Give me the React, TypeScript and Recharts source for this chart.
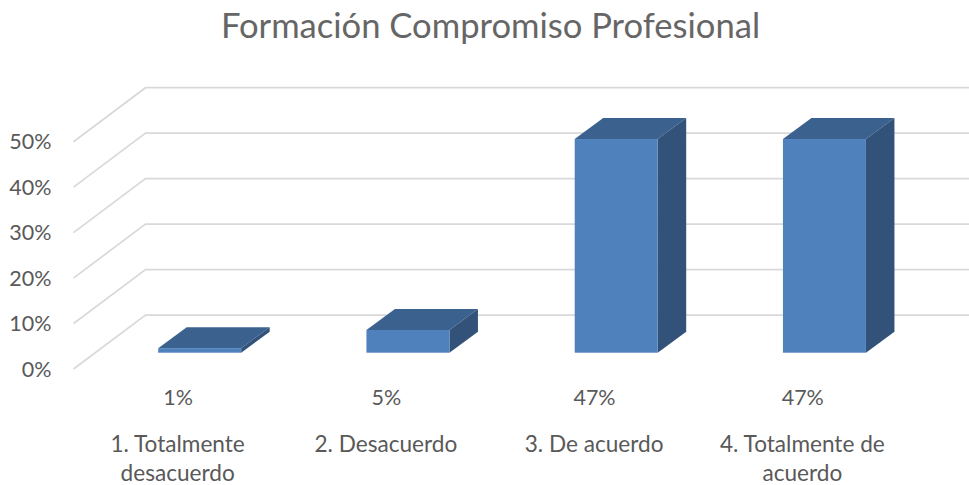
import React from "react";
import { BarChart, Bar, XAxis, YAxis, CartesianGrid, LabelList } from "recharts";

const categories = ["1. Totalmente desacuerdo", "2. Desacuerdo", "3. De acuerdo", "4. Totalmente de acuerdo"];
const categoryLines = [["1. Totalmente", "desacuerdo"], ["2. Desacuerdo"], ["3. De acuerdo"], ["4. Totalmente de", "acuerdo"]];
const values = [1, 5, 47, 47];
const yTicks = [0, 10, 20, 30, 40, 50];
const titleText = "Formación Compromiso Profesional";

const data = categories.map((name, i) => ({ name, value: values[i] }));

const FONT = "Lato, 'Open Sans', sans-serif";
const TEXT = "#595959";
// 3D projection of the floor and walls
const WALL_DX = 72;
const WALL_DY = 54;
const BAR_SHIFT_X = 21.7;
const BAR_SHIFT_Y = 16.3;
const DEPTH_X = 28.5;
const DEPTH_Y = 21;

const Box3D = (props: any) => {
  const { x, y, width, height } = props;
  const l = x + BAR_SHIFT_X;
  const r = l + width;
  const t = y - BAR_SHIFT_Y;
  const b = t + height;
  const p = (pts: number[][]) => pts.map((q) => q.join(",")).join(" ");
  return (
    <g>
      <polygon points={p([[l, t], [l + DEPTH_X, t - DEPTH_Y], [r + DEPTH_X, t - DEPTH_Y], [r, t]])} fill="#3B618F" />
      <polygon points={p([[r, t], [r + DEPTH_X, t - DEPTH_Y], [r + DEPTH_X, b - DEPTH_Y], [r, b]])} fill="#32527A" />
      <rect x={l} y={t} width={width} height={height} fill="#4F81BD" />
    </g>
  );
};

const WallLine = (props: any) => {
  const { x1, x2, y1 } = props;
  return (
    <polyline
      points={`${x1},${y1} ${x1 + WALL_DX},${y1 - WALL_DY} ${x2 + WALL_DX},${y1 - WALL_DY}`}
      fill="none"
      stroke="#D9D9D9"
      strokeWidth={1.75}
    />
  );
};

const CategoryTick = (props: any) => {
  const { x, payload, index } = props;
  const lines = categoryLines[index] ?? [payload.value];
  return (
    <text x={x} textAnchor="middle" fontFamily={FONT} fontSize={22.6} fill={TEXT}>
      {lines.map((line: string, i: number) => (
        <tspan key={i} x={x} y={452 + i * 29}>{line}</tspan>
      ))}
    </text>
  );
};

const ValueLabel = (props: any) => {
  const { x, width, value } = props;
  return (
    <text x={x + width / 2} y={405} textAnchor="middle" fontFamily={FONT} fontSize={21.5} fill={TEXT}>
      {value}%
    </text>
  );
};

export default function App() {
  return (
    <div style={{ width: 969, height: 485, position: "relative", background: "#fff" }}>
      <style>{"html,body{margin:0;padding:0;background:#fff}"}</style>
      <BarChart
        width={969}
        height={485}
        data={data}
        barSize={83}
        margin={{ top: 141.7, right: 62.5, bottom: 0, left: 0 }}
      >
        <text x={490.5} y={38} textAnchor="middle" fontFamily={FONT} fontSize={34.6} fill="#666666">
          {titleText}
        </text>
        <CartesianGrid vertical={false} horizontal={(p: any) => <WallLine key={p.key} {...p} />} />
        <XAxis dataKey="name" height={116} axisLine={false} tickLine={false} interval={0} tick={<CategoryTick />} />
        <YAxis
          width={73.5}
          orientation="left"
          domain={[0, 50]}
          ticks={yTicks}
          axisLine={false}
          tickLine={false}
          tickMargin={16}
          tick={{ fontFamily: FONT, fontSize: 21.5, fill: TEXT }}
          tickFormatter={(v: number) => `${v}%`}
        />
        <Bar dataKey="value" isAnimationActive={false} shape={<Box3D />}>
          <LabelList dataKey="value" content={<ValueLabel />} />
        </Bar>
      </BarChart>
    </div>
  );
}
